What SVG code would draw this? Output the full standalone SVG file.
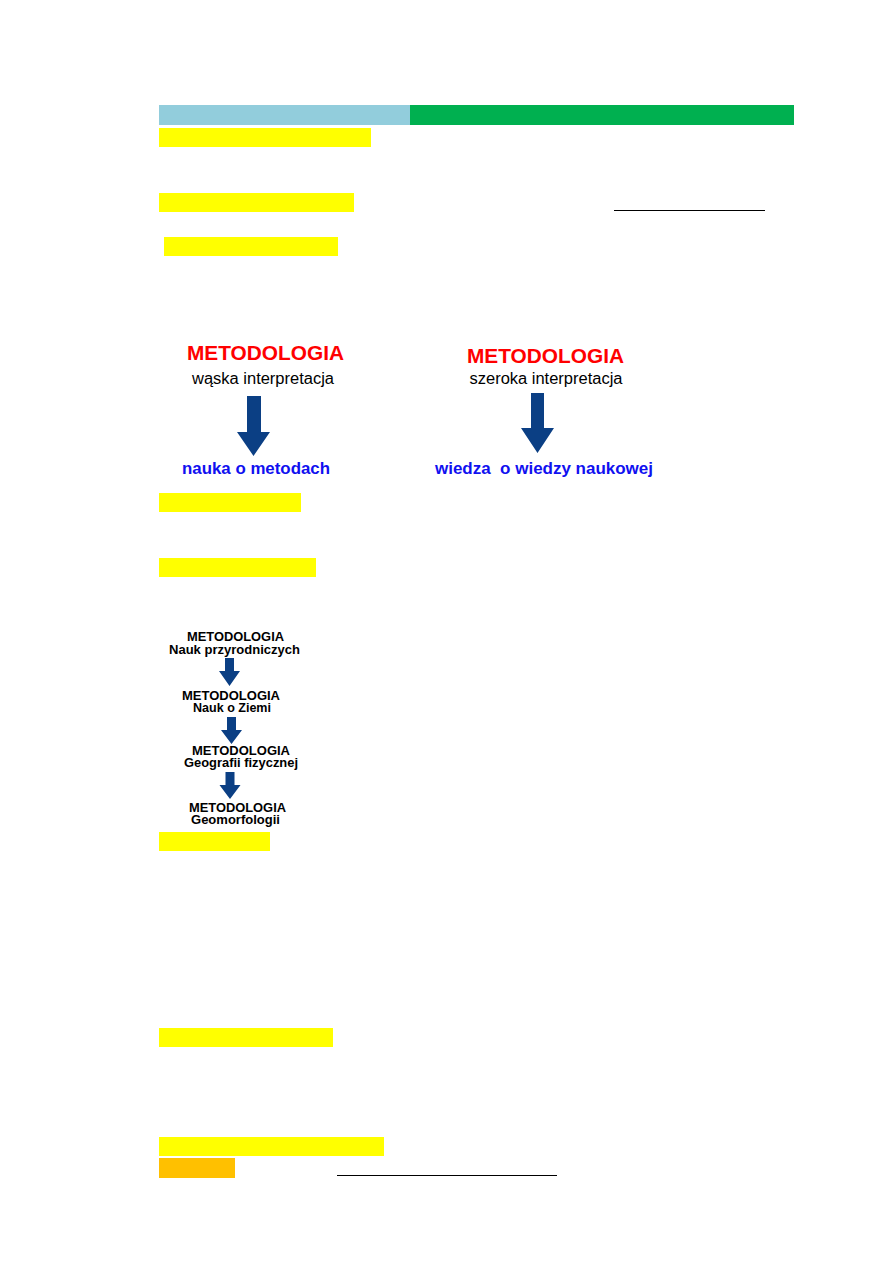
<svg xmlns="http://www.w3.org/2000/svg" width="893" height="1263" viewBox="0 0 893 1263">
<style>
.hl{fill:#FFFF00}
.big{font-family:"Liberation Sans",Arial,sans-serif;font-weight:bold;font-size:21px;fill:#FF0000;text-anchor:middle}
.sub{font-family:"Liberation Sans",Arial,sans-serif;font-size:16px;fill:#000;text-anchor:middle}
.res{font-family:"Liberation Sans",Arial,sans-serif;font-weight:bold;font-size:17px;fill:#1010F0;text-anchor:middle}
.sm{font-family:"Liberation Sans",Arial,sans-serif;font-weight:bold;font-size:12.5px;fill:#000;text-anchor:middle}
.arr{fill:#0B3F84}
</style>
<rect width="893" height="1263" fill="#fff"/>
<g id="header">
<rect x="159" y="105" width="251" height="20" fill="#92CDDC"/>
<rect x="410" y="105" width="384" height="20" fill="#00B050"/>
</g>
<g id="highlights">
<rect class="hl" x="159" y="128" width="212" height="19"/>
<rect class="hl" x="159" y="193" width="195" height="19"/>
<line x1="614" y1="210.5" x2="765" y2="210.5" stroke="#000" stroke-width="1.2"/>
<rect class="hl" x="164" y="237" width="174" height="19"/>
<rect class="hl" x="159" y="493" width="142" height="19"/>
<rect class="hl" x="159" y="558" width="157" height="19"/>
<rect class="hl" x="159" y="832" width="111" height="19"/>
<rect class="hl" x="159" y="1028" width="174" height="19"/>
<rect class="hl" x="159" y="1137" width="225" height="19"/>
<rect x="159" y="1158" width="76" height="20" fill="#FFC000"/>
<line x1="337" y1="1175.5" x2="557" y2="1175.5" stroke="#000" stroke-width="1.2"/>
</g>
<g id="node-waska">
<text class="big" x="265.5" y="360" textLength="157" lengthAdjust="spacingAndGlyphs">METODOLOGIA</text>
<text class="sub" x="263" y="384" textLength="142" lengthAdjust="spacingAndGlyphs">wąska interpretacja</text>
</g>
<g id="node-nauka">
<text class="res" x="256" y="474" textLength="148" lengthAdjust="spacingAndGlyphs">nauka o metodach</text>
</g>
<g id="node-szeroka">
<text class="big" x="545.5" y="363" textLength="157" lengthAdjust="spacingAndGlyphs">METODOLOGIA</text>
<text class="sub" x="546" y="384" textLength="153" lengthAdjust="spacingAndGlyphs">szeroka interpretacja</text>
</g>
<g id="node-wiedza">
<text class="res" x="544" y="473.5" textLength="218" lengthAdjust="spacingAndGlyphs" xml:space="preserve">wiedza  o wiedzy naukowej</text>
</g>
<g id="node-przyrodnicze">
<text class="sm" x="235.5" y="641" textLength="97" lengthAdjust="spacingAndGlyphs">METODOLOGIA</text>
<text class="sm" x="234.5" y="654" textLength="131" lengthAdjust="spacingAndGlyphs">Nauk przyrodniczych</text>
</g>
<g id="node-ziemia">
<text class="sm" x="231" y="700" textLength="98" lengthAdjust="spacingAndGlyphs">METODOLOGIA</text>
<text class="sm" x="232" y="712" textLength="78" lengthAdjust="spacingAndGlyphs">Nauk o Ziemi</text>
</g>
<g id="node-geografia">
<text class="sm" x="241" y="755" textLength="98" lengthAdjust="spacingAndGlyphs">METODOLOGIA</text>
<text class="sm" x="241" y="767" textLength="114" lengthAdjust="spacingAndGlyphs">Geografii fizycznej</text>
</g>
<g id="node-geomorfologia">
<text class="sm" x="237.5" y="812" textLength="97" lengthAdjust="spacingAndGlyphs">METODOLOGIA</text>
<text class="sm" x="235.5" y="824" textLength="89" lengthAdjust="spacingAndGlyphs">Geomorfologii</text>
</g>
<g id="connectors">
<polygon class="arr" points="247,396 261,396 261,432 270,432 253.5,456 237,432 247,432"/>
<polygon class="arr" points="531,393 544,393 544,428 554,428 537.5,453 521,428 531,428"/>
<polygon class="arr" points="225,658 234,658 234,671 240,671 229.5,686 219,671 225,671"/>
<polygon class="arr" points="227,717 236,717 236,730 242,730 231.5,744 221,730 227,730"/>
<polygon class="arr" points="225.5,772 234.5,772 234.5,785 240.5,785 230,799 219.5,785 225.5,785"/>
</g>
</svg>
